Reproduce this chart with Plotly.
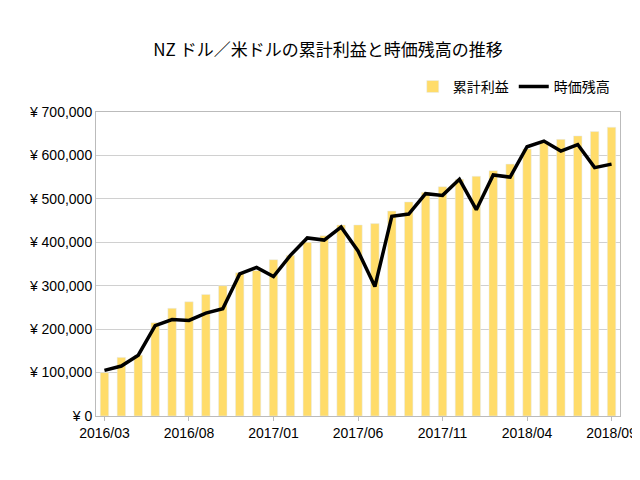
import plotly.graph_objects as go

months = []
y, m = 2016, 3
for _ in range(31):
    months.append(f"{y}/{m:02d}")
    m += 1
    if m > 12:
        m = 1; y += 1

profit = [100000,135000,140000,215000,248000,263000,280000,300000,330000,335000,
          360000,370000,400000,415000,440000,440000,443000,472000,493000,515000,
          528000,545000,552000,565000,580000,615000,632000,637000,645000,655000,665000]
balance = [105000,115000,140000,208000,222000,220000,237000,247000,327000,342000,
           321000,370000,410000,405000,435000,380000,298000,460000,465000,512000,
           508000,545000,475000,555000,550000,620000,633000,610000,625000,572000,580000]
tick_labels = months[::5]
y_ticks = list(range(0, 700001, 100000))

font = "Noto Sans CJK JP"
tickfont = dict(family="Liberation Sans", size=14, color="black")
fig = go.Figure()
fig.add_bar(x=months, y=profit, name="累計利益", marker_color="#FFDC6A", width=0.5)
fig.add_scatter(x=months, y=balance, name="時価残高", mode="lines",
                line=dict(color="black", width=3.5))
fig.update_layout(
    width=640, height=480, plot_bgcolor="white", paper_bgcolor="white",
    font=dict(family=font, size=14, color="black"),
    title=dict(text="NZ ドル／米ドルの累計利益と時価残高の推移", x=0.5, y=0.925,
               font=dict(size=17)),
    legend=dict(orientation="h", x=0.99, xanchor="right", y=1.03, yanchor="bottom",
                font=dict(size=14)),
    margin=dict(l=88, r=28, t=104, b=72),
    bargap=0.5,
)
fig.update_xaxes(tickmode="array", tickvals=tick_labels, ticktext=tick_labels,
                 tickfont=tickfont,
                 showgrid=False, showline=True, linecolor="#bbb", ticks="outside",
                 ticklen=4, tickcolor="#bbb", mirror=True, range=[-0.5, 30.5])
fig.update_yaxes(range=[0, 700000], tickvals=y_ticks, tickfont=tickfont,
                 ticktext=["¥ 0" if v == 0 else f"¥ {v:,}" for v in y_ticks],
                 gridcolor="#d0d0d0", showline=True, linecolor="#bbb", mirror=True)
fig.write_html("out.html")
